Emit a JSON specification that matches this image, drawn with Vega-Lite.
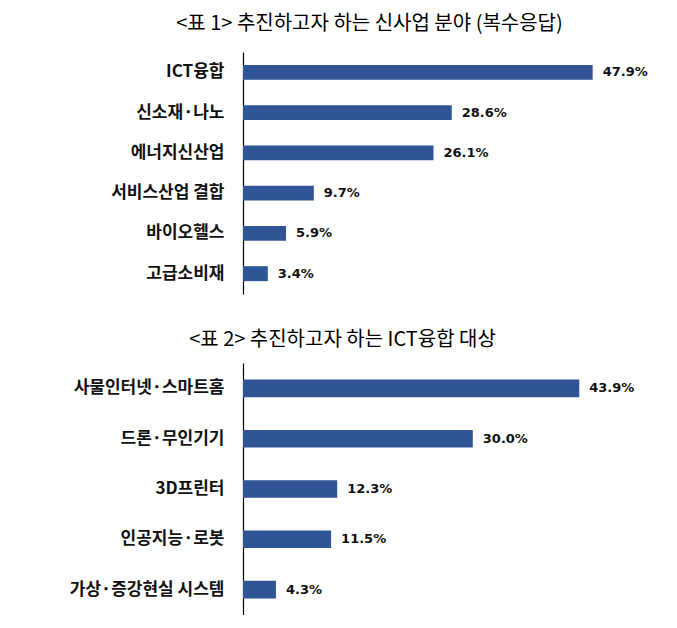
{
  "$schema": "https://vega.github.io/schema/vega-lite/v6.json",
  "background": "white",
  "padding": {"left": 23, "top": 14, "right": 0, "bottom": 0},
  "config": {
    "view": {"stroke": null},
    "font": "Noto Sans CJK KR",
    "concat": {"spacing": 36},
    "axisY": {
      "domainColor": "#000000", "domainWidth": 1.2, "ticks": false, "grid": false,
      "labelFont": "Noto Sans CJK KR", "labelFontSize": 17, "labelFontWeight": "bold",
      "labelColor": "#111111", "labelPadding": 19, "minExtent": 220, "maxExtent": 220, "title": null, "labelLimit": 240
    }
  },
  "datasets": {
    "t1": [
      {"category": "ICT융합", "value": 0.479},
      {"category": "신소재·나노", "value": 0.286},
      {"category": "에너지신산업", "value": 0.261},
      {"category": "서비스산업 결합", "value": 0.097},
      {"category": "바이오헬스", "value": 0.059},
      {"category": "고급소비재", "value": 0.034}
    ],
    "t2": [
      {"category": "사물인터넷·스마트홈", "value": 0.439},
      {"category": "드론·무인기기", "value": 0.300},
      {"category": "3D프린터", "value": 0.123},
      {"category": "인공지능·로봇", "value": 0.115},
      {"category": "가상·증강현실 시스템", "value": 0.043}
    ]
  },
  "vconcat": [
    {
      "data": {"name": "t1"},
      "title": {"text": "<표 1> 추진하고자 하는 신사업 분야 (복수응답)", "fontSize": 20, "fontWeight": "normal", "color": "#000000", "anchor": "middle", "frame": "group", "dx": -56, "offset": 18},
      "width": 365,
      "height": 242,
      "encoding": {
        "y": {"field": "category", "type": "nominal", "sort": null, "scale": {"paddingInner": 0.63, "paddingOuter": 0.32}},
        "x": {"field": "value", "type": "quantitative", "scale": {"domain": [0, 0.5], "nice": false}, "axis": null}
      },
      "layer": [
        {"mark": {"type": "bar", "color": "#2F5597"}},
        {"mark": {"type": "text", "align": "left", "dx": 10, "font": "DejaVu Sans", "fontWeight": "bold", "fontSize": 13, "color": "#111111"},
         "encoding": {"text": {"field": "value", "type": "quantitative", "format": ".1%"}}}
      ]
    },
    {
      "data": {"name": "t2"},
      "title": {"text": "<표 2> 추진하고자 하는 ICT융합 대상", "fontSize": 20, "fontWeight": "normal", "color": "#000000", "anchor": "middle", "frame": "group", "dx": -92, "offset": 13},
      "width": 383,
      "height": 252,
      "encoding": {
        "y": {"field": "category", "type": "nominal", "sort": null, "scale": {"paddingInner": 0.65, "paddingOuter": 0.33}},
        "x": {"field": "value", "type": "quantitative", "scale": {"domain": [0, 0.5], "nice": false}, "axis": null}
      },
      "layer": [
        {"mark": {"type": "bar", "color": "#2F5597"}},
        {"mark": {"type": "text", "align": "left", "dx": 10, "font": "DejaVu Sans", "fontWeight": "bold", "fontSize": 13, "color": "#111111"},
         "encoding": {"text": {"field": "value", "type": "quantitative", "format": ".1%"}}}
      ]
    }
  ]
}
